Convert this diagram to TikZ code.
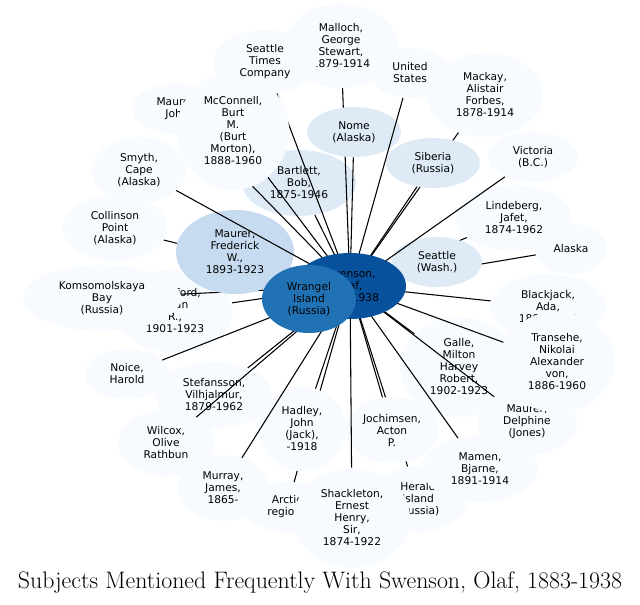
\documentclass[tikz,border=0pt]{standalone}
\usepackage{fontspec}
\newfontfamily\dejavu{DejaVu Sans}
\usetikzlibrary{shapes.geometric}
\definecolor{c0}{HTML}{F7FBFF}
\definecolor{c1}{HTML}{DEEBF7}
\definecolor{c2}{HTML}{C6DBEF}
\definecolor{c3}{HTML}{2171B5}
\definecolor{c4}{HTML}{08519C}
\pgfdeclarelayer{lA}\pgfdeclarelayer{lB}\pgfdeclarelayer{lC}\pgfdeclarelayer{lD}
\pgfsetlayers{lA,lB,lC,lD,main}
\begin{document}
\begin{tikzpicture}[x=0.75pt,y=-0.75pt,
  subj/.style={ellipse, draw=none, inner sep=1pt, align=center, fill=c0,
    font=\dejavu\fontsize{8}{9}\selectfont},
  sz/.style 2 args={minimum width=#1*1.5pt, minimum height=#2*1.5pt},
  conn/.style={draw=black, line width=0.8pt}]
\useasboundingbox (0,0) rectangle (640,605);
\begin{pgfonlayer}{lA}
\node[subj,sz={52}{33}] (co) at (115,228) {Collinson\\Point\\(Alaska)};
\node[subj,sz={47}{33}] (sm) at (139,170) {Smyth,\\Cape\\(Alaska)};
\node[subj,sz={45}{25}] (mj) at (177,109) {Maurer,\\John};
\node[subj,sz={57}{42}] (ma) at (341,46) {Malloch,\\George\\Stewart,\\1879-1914};
\node[subj,sz={40}{25}] (us) at (410,73) {United\\States};
\node[subj,sz={58}{42}] (mk) at (485,95) {Mackay,\\Alistair\\Forbes,\\1878-1914};
\node[subj,sz={45}{25}] (vc) at (533,157) {Victoria\\(B.C.)};
\node[subj,sz={58}{33}] (lb) at (514,218) {Lindeberg,\\Jafet,\\1874-1962};
\node[subj,sz={36}{25}] (ak) at (571,249) {Alaska};
\node[subj,sz={58}{33}] (bj) at (548,307) {Blackjack,\\Ada,\\1898-1983};
\node[subj,sz={50}{33}] (md) at (527,422) {Maurer,\\Delphine\\(Jones)};
\node[subj,sz={58}{50}] (tr) at (557,362) {Transehe,\\Nikolai\\Alexander\\von,\\1886-1960};
\node[subj,sz={59}{50}] (ga) at (459,367) {Galle,\\Milton\\Harvey\\Robert,\\1902-1923};
\node[subj,sz={49}{33}] (hi) at (418,499) {Herald\\Island\\(Russia)};
\node[subj,sz={58}{33}] (mm) at (480,469) {Mamen,\\Bjarne,\\1891-1914};
\node[subj,sz={44}{25}] (ar) at (287,507) {Arctic\\regions};
\node[subj,sz={58}{50}] (sh) at (352,518) {Shackleton,\\Ernest\\Henry,\\Sir,\\1874-1922};
\node[subj,sz={45}{33}] (mu) at (223,488) {Murray,\\James,\\1865-};
\node[subj,sz={58}{33}] (sf) at (214,395) {Stefansson,\\Vilhjalmur,\\1879-1962};
\node[subj,sz={48}{33}] (wi) at (166,443) {Wilcox,\\Olive\\Rathbun};
\node[subj,sz={42}{25}] (no) at (127,374) {Noice,\\Harold};
\node[subj,sz={58}{42}] (cr) at (175,311) {Crawford,\\Allan\\R.,\\1901-1923};
\node[subj,sz={79}{33}] (ko) at (102,298) {Komsomolskaya\\Bay\\(Russia)};
\node[subj,sz={57}{33},fill=c1] (bt) at (299,183) {Bartlett,\\Bob,\\1875-1946};
\end{pgfonlayer}
\begin{pgfonlayer}{lC}
\node[subj,sz={44}{42}] (hd) at (302,429) {Hadley,\\John\\(Jack),\\-1918};
\node[subj,sz={47}{33}] (jo) at (392,430) {Jochimsen,\\Acton\\P.};
\node[subj,sz={56}{59}] (mc) at (233,131) {McConnell,\\Burt\\M.\\(Burt\\Morton),\\1888-1960};
\node[subj,sz={52}{32}] (st) at (265,62) {Seattle\\Times\\Company};
\node[subj,sz={47}{25},fill=c1] (nm) at (354,132) {Nome\\(Alaska)};
\node[subj,sz={47}{25},fill=c1] (sb) at (433,163) {Siberia\\(Russia)};
\node[subj,sz={45}{25},fill=c1] (se) at (437,262) {Seattle\\(Wash.)};
\node[subj,sz={59}{42},fill=c2] (mf) at (235,252) {Maurer,\\Frederick\\W.,\\1893-1923};
\end{pgfonlayer}
\node[subj,sz={56}{33},fill=c4] (sw) at (350,286) {Swenson,\\Olaf,\\1883-1938};
\node[subj,sz={47}{34},fill=c3] (wr) at (309,299) {Wrangel\\Island\\(Russia)};
\node[anchor=base, font=\fontsize{17.9}{21}\selectfont] (title) at (320,589)
  {Subjects Mentioned Frequently With Swenson, Olaf, 1883-1938};
\begin{pgfonlayer}{lB}
\foreach \t in {co,ko,cr,no,sf,wi,ar,hi,mj,ma,mk,lb,ak,st,bj,tr,md,mm,ga}
  \draw[conn] (sw.center) -- (\t);
\end{pgfonlayer}
\begin{pgfonlayer}{lD}
\foreach \t in {mu,sh,us,vc,sm,hd,jo,mc,nm,sb,se,mf,bt}
  \draw[conn] (sw.center) -- (\t);
\end{pgfonlayer}
\end{tikzpicture}
\end{document}
